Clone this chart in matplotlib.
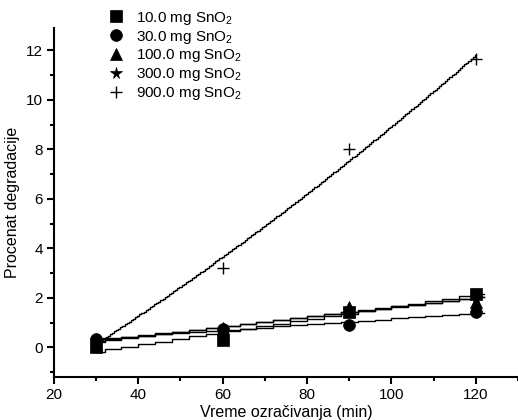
import numpy as np
import matplotlib
matplotlib.use("Agg")
import matplotlib.pyplot as plt
from matplotlib.ticker import MultipleLocator

plt.rcParams['font.family'] = ['Liberation Sans', 'DejaVu Sans']
plt.rcParams['mathtext.fontset'] = 'custom'
plt.rcParams['mathtext.rm'] = 'Liberation Sans'
plt.rcParams['mathtext.it'] = 'Liberation Sans:italic'

time_min = [30, 60, 90, 120]
labels = ["10.0 mg SnO$_2$", "30.0 mg SnO$_2$", "100.0 mg SnO$_2$",
          "300.0 mg SnO$_2$", "900.0 mg SnO$_2$"]
s10 = [0.0, 0.3, 1.45, 2.15]
s30 = [0.35, 0.75, 0.9, 1.45]
s100 = [0.2, 0.8, 1.65, 1.85]
s300 = [0.3, 0.7, 1.5, 2.0]
s900 = [0.3, 3.2, 8.0, 11.65]
series = [s10, s30, s100, s300, s900]
markers = ['s', 'o', '^', '*', '+']
msizes = [8.5, 8.5, 8.5, 8.5, 8]
fit_deg = [1, 1, 1, 1, 2]
fit_step = [4, 4, 4, 4, 0.5]

fig = plt.figure(figsize=(5.18, 4.20), dpi=100)
ax = fig.add_axes([0.104, 0.102, 0.896, 0.831])

x = np.array(time_min, dtype=float)
for ys, m, ms, deg, st, lab in zip(series, markers, msizes, fit_deg, fit_step, labels):
    ax.plot(time_min, ys, linestyle='none', marker=m, markersize=ms, color='black',
            markeredgewidth=1.0 if m == '+' else 0.5, label=lab)
    coef = np.polyfit(x, np.array(ys), deg)
    xf = np.arange(x[0], x[-1] + st, st)
    ax.plot(xf, np.polyval(coef, xf), color='black', lw=1.0, drawstyle='steps-mid')

ax.set_xlim(20, 130)
ax.set_ylim(-1.2, 12.9)
ax.xaxis.set_major_locator(MultipleLocator(20))
ax.xaxis.set_minor_locator(MultipleLocator(10))
ax.yaxis.set_major_locator(MultipleLocator(2))
ax.yaxis.set_minor_locator(MultipleLocator(1))
for s in ['top', 'right']:
    ax.spines[s].set_visible(False)
for s in ['left', 'bottom']:
    ax.spines[s].set_linewidth(1.5)
ax.tick_params(which='major', direction='out', length=5, width=1.5, labelsize=11, pad=3)
ax.tick_params(which='minor', direction='out', length=3, width=1.5)
ax.set_xlabel("Vreme ozračivanja (min)", fontsize=11.5, labelpad=2)
ax.set_ylabel("Procenat degradacije", fontsize=11.5, labelpad=4)

leg = ax.legend(loc='upper left', bbox_to_anchor=(0.105, 1.07), frameon=False,
                fontsize=11, handlelength=1.0, handletextpad=0.8,
                labelspacing=0.12, borderaxespad=0)

fig.savefig("out.png", dpi=100)
